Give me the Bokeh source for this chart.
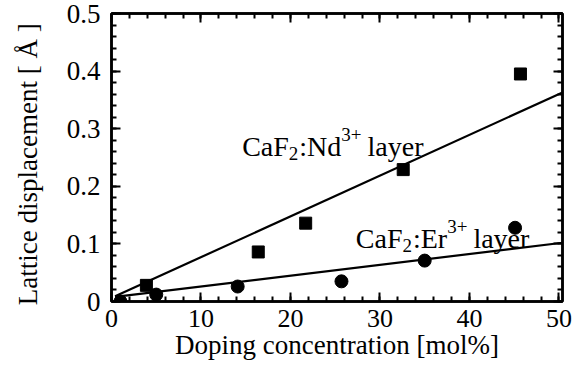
from bokeh.plotting import figure
from bokeh.models import LinearAxis, Range1d, SingleIntervalTicker, CustomJSTickFormatter
from bokeh.core.properties import value
from bokeh.embed import file_html
from bokeh.resources import INLINE

# ---- data ----
nd_x = [3.9, 16.4, 21.7, 32.6, 45.7]
nd_y = [0.028, 0.086, 0.136, 0.229, 0.395]
er_x = [1.0, 5.0, 14.1, 25.7, 35.0, 45.1]
er_y = [0.0, 0.012, 0.026, 0.035, 0.071, 0.128]
nd_fit_x = [0.4, 50.4]
nd_fit_y = [0.009, 0.363]
er_fit_x = [0.4, 50.4]
er_fit_y = [0.008, 0.102]
x_label = "Doping concentration [mol%]"
y_label = "Lattice displacement [ Å ]"
nd_label_pos = (14.6, 0.269)
er_label_pos = (27.3, 0.109)

FONT = "Liberation Serif"

p = figure(width=572, height=371, x_range=Range1d(0, 50.4), y_range=Range1d(0, 0.5),
           output_backend="svg", toolbar_location=None,
           min_border_left=111, min_border_right=10, min_border_top=13, min_border_bottom=70)
p.grid.visible = False
p.outline_line_color = "black"
p.outline_line_width = 2.5
p.background_fill_color = "white"
p.border_fill_color = "white"

p.add_layout(LinearAxis(), "above")
p.add_layout(LinearAxis(), "right")

for ax in p.xaxis:
    ax.ticker = SingleIntervalTicker(interval=10, num_minor_ticks=5)
for ax in p.yaxis:
    ax.ticker = SingleIntervalTicker(interval=0.1, num_minor_ticks=5)

for ax in p.axis:
    ax.axis_line_color = "black"
    ax.axis_line_width = 2.5
    ax.major_tick_in = 9
    ax.major_tick_out = 0
    ax.minor_tick_in = 5
    ax.minor_tick_out = 0
    ax.major_tick_line_width = 2
    ax.minor_tick_line_width = 2
    ax.major_tick_line_color = "black"
    ax.minor_tick_line_color = "black"
    ax.major_label_text_font = FONT
    ax.major_label_text_color = "black"
    ax.axis_label_text_font = FONT
    ax.axis_label_text_font_style = "normal"
    ax.axis_label_text_color = "black"

xa = p.below[0]
ya = p.left[0]
xa.axis_label = x_label
xa.axis_label_text_font_size = "27px"
xa.major_label_text_font_size = "26px"
xa.major_label_standoff = 8
xa.axis_label_standoff = 0
ya.axis_label = y_label + "\u00a0\u00a0"
ya.axis_label_text_font_size = "27px"
ya.major_label_text_font_size = "27px"
ya.major_label_standoff = 11
ya.axis_label_standoff = 21
ya.formatter = CustomJSTickFormatter(code="return tick < 1e-9 ? '0' : tick.toFixed(1);")

for ax in (p.above[0], p.right[0]):
    ax.formatter = CustomJSTickFormatter(code="return '';")
    ax.major_label_text_font_size = "1px"
    ax.major_label_standoff = 0

# fit lines
p.line(nd_fit_x, nd_fit_y, line_color="black", line_width=2.2)
p.line(er_fit_x, er_fit_y, line_color="black", line_width=2.2)

# data points
p.scatter(nd_x, nd_y, marker="square", size=12, color="black")
p.scatter(er_x, er_y, marker="circle", size=13, color="black")

# composed labels (sub- and superscripts)
W = {"C": .667, "a": .444, "F": .556, "2": .5, ":": .278, "N": .722, "d": .5, "3": .5,
     "+": .564, " ": .25, "l": .278, "y": .5, "e": .444, "r": .333, "E": .611}


def tw(s, size):
    return sum(W.get(c, .5) for c in s) * size


def compose(pos, ion):
    big, small = 28, 19
    parts = [("CaF", big, 0, 0), ("2", small, 7, 1), (":" + ion, big, 0, 0),
             ("3+", small, -12, 6), ("layer", big, 0, 0)]
    dx = 0.0
    for txt, size, dy, gap in parts:
        p.text(x=[pos[0]], y=[pos[1]], text=[txt], x_offset=dx, y_offset=dy,
               text_font=value(FONT), text_font_size=f"{size}px", text_color="black",
               text_align="left", text_baseline="alphabetic")
        dx += tw(txt, size) + gap


compose(nd_label_pos, "Nd")
compose(er_label_pos, "Er")

open("out.html", "w").write(file_html(p, INLINE))
